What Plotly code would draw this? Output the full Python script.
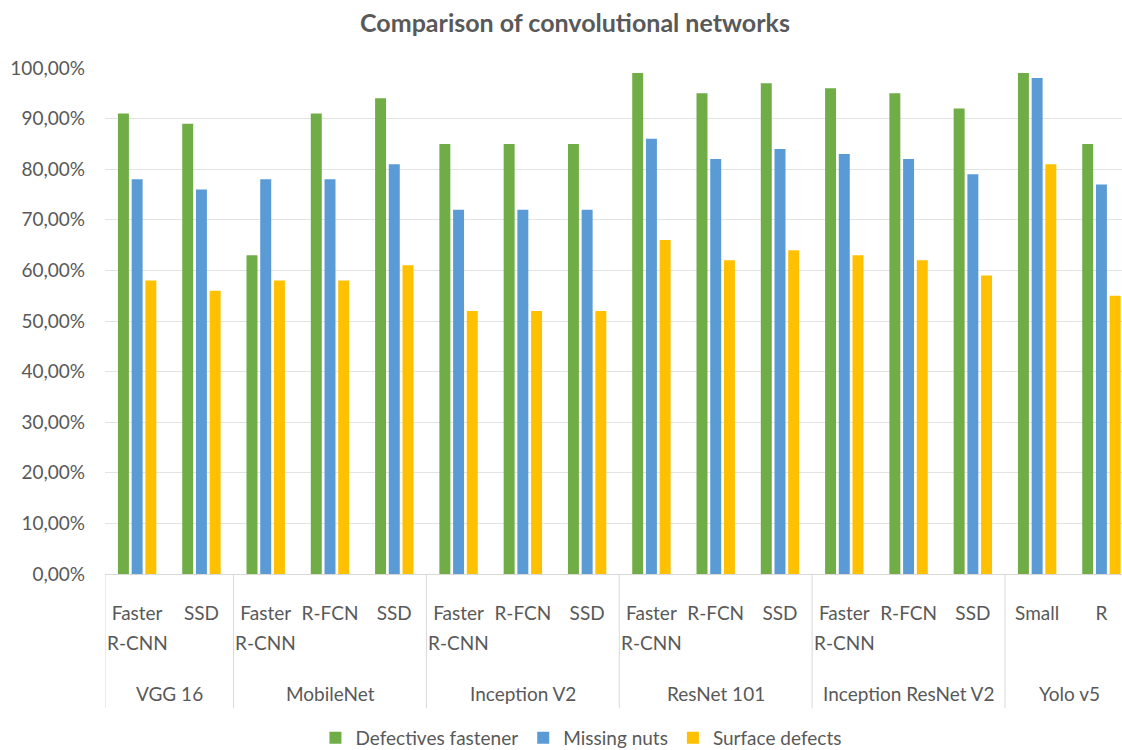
import plotly.graph_objects as go

group_names = ["VGG 16", "MobileNet", "Inception V2", "ResNet 101", "Inception ResNet V2", "Yolo v5"]
group_sizes = [2, 3, 3, 3, 3, 2]
models = ["Faster R-CNN", "SSD",
          "Faster R-CNN", "R-FCN", "SSD",
          "Faster R-CNN", "R-FCN", "SSD",
          "Faster R-CNN", "R-FCN", "SSD",
          "Faster R-CNN", "R-FCN", "SSD",
          "Small", "R"]

defectives_fastener = [91, 89, 63, 91, 94, 85, 85, 85, 99, 95, 97, 96, 95, 92, 99, 85]
missing_nuts = [78, 76, 78, 78, 81, 72, 72, 72, 86, 82, 84, 83, 82, 79, 98, 77]
surface_defects = [58, 56, 58, 58, 61, 52, 52, 52, 66, 62, 64, 63, 62, 59, 81, 55]

y_ticks = [0, 10, 20, 30, 40, 50, 60, 70, 80, 90, 100]
y_tick_labels = ["0,00%", "10,00%", "20,00%", "30,00%", "40,00%", "50,00%",
                 "60,00%", "70,00%", "80,00%", "90,00%", "100,00%"]

series = [("Defectives fastener", defectives_fastener, "#70AD47"),
          ("Missing nuts", missing_nuts, "#5B9BD5"),
          ("Surface defects", surface_defects, "#FFC000")]

FONT = "Lato"
TXT = "#595959"
xpos = list(range(len(models)))

# vertical layout is planned in reference pixels and mapped onto the figure height
S = 757 / 750
W, H = 1122, 757
PLOT_TOP = round(67 * S)
PLOT_BOTTOM = round(574 * S)
PLOT_H = PLOT_BOTTOM - PLOT_TOP


def below(px):
    """paper y for a reference pixel row below the plot area"""
    return -(px * S - PLOT_BOTTOM) / PLOT_H


fig = go.Figure()
for name, vals, color in series:
    fig.add_trace(go.Bar(x=xpos, y=vals, name=name,
                         marker=dict(color=color, line=dict(width=0))))

shapes = []
annotations = []

# second line of the two-line model labels
first_lines = []
for i, m in enumerate(models):
    parts = m.split(" ", 1) if m.startswith("Faster") else [m]
    first_lines.append(parts[0])
    if len(parts) > 1:
        annotations.append(dict(x=i, y=below(642), xref="x", yref="paper",
                                text=parts[1], showarrow=False, xanchor="center", yanchor="middle",
                                font=dict(family=FONT, size=19, color=TXT)))

start = 0
bounds = [-0.5]
for gname, gsize in zip(group_names, group_sizes):
    center = start + (gsize - 1) / 2
    annotations.append(dict(x=center, y=below(693), xref="x", yref="paper",
                            text=gname, showarrow=False, xanchor="center", yanchor="middle",
                            font=dict(family=FONT, size=19, color=TXT)))
    start += gsize
    bounds.append(start - 0.5)
for b in bounds:
    shapes.append(dict(type="line", xref="x", yref="paper", x0=b, x1=b, y0=0, y1=below(708),
                       line=dict(color="#d9d9d9", width=1)))

fig.update_layout(
    width=W, height=H,
    paper_bgcolor="white", plot_bgcolor="white",
    barmode="group", bargap=0.36, bargroupgap=0.2,
    margin=dict(l=105, r=0, t=PLOT_TOP, b=H - PLOT_BOTTOM, pad=0),
    title=dict(text="<b>Comparison of convolutional networks</b>", x=575 / W, xanchor="center",
               y=1 - 23 * S / H, yanchor="middle",
               font=dict(family=FONT, size=25, color=TXT)),
    font=dict(family=FONT, color=TXT),
    legend=dict(orientation="h", x=0.468, xanchor="center", y=below(738), yanchor="middle",
                font=dict(family=FONT, size=19, color=TXT),
                traceorder="normal"),
    shapes=shapes,
    annotations=annotations,
    xaxis=dict(range=[-0.5, 15.32], tickvals=xpos, ticktext=first_lines, showline=True,
               linecolor="#d9d9d9", linewidth=1, showgrid=False, zeroline=False,
               tickfont=dict(family=FONT, size=19, color=TXT), tickangle=0,
               ticks="", ticklabelstandoff=22, automargin=False),
    yaxis=dict(range=[0, 100], tickvals=y_ticks, ticktext=y_tick_labels,
               showgrid=True, gridcolor="#e3e3e3",
               gridwidth=1, zeroline=False, showline=False,
               tickfont=dict(family=FONT, size=19, color=TXT), ticklabelstandoff=19,
               automargin=False),
)

# pin the figure to the window's top-left corner
post = ("document.body.style.margin='0';"
        "document.documentElement.style.overflow='hidden';"
        "document.body.style.overflow='hidden';"
        "var d=document.getElementById('{plot_id}');"
        "d.style.position='fixed';d.style.left='0';d.style.top='0';")
fig.write_html("out.html", config={"displayModeBar": False}, post_script=post)
